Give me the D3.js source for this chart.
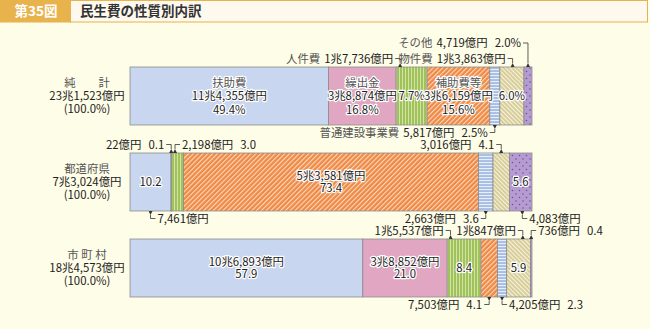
<!DOCTYPE html>
<meta charset="utf-8">
<style>
body { margin: 0; background: #fefde8; }
svg { display: block; font-family: "Noto Sans CJK JP", "Noto Sans", sans-serif; }
.seg { stroke: #8c8c8c; stroke-width: 0.8; }
.lbl { font-size: 11.4px; fill: #222; }
.name { fill: #555; }
.inbar { paint-order: stroke; stroke: #fff; stroke-width: 2.4px; stroke-linejoin: round; }
.conn { fill: none; stroke: #333; stroke-width: 0.8; }
</style>
<svg width="650" height="329"></svg>
<script src="https://d3js.org/d3.v7.min.js"></script>
<script>
// data
var categories = ["扶助費", "繰出金", "人件費", "補助費等", "普通建設事業費", "物件費", "その他"];
var groups = ["純　　計", "都道府県", "市 町 村"];
var totals = ["23兆1,523億円", "7兆3,024億円", "18兆4,573億円"];

var shareNet  = [49.4, 16.8, 7.7, 15.6, 2.5, 6.0, 2.0];
var sharePref = [10.2, 0.1, 3.0, 73.4, 3.6, 4.1, 5.6];
var shareMuni = [57.9, 21.0, 8.4, 4.1, 2.3, 5.9, 0.4];

var amountNet  = ["11兆4,355億円", "3兆8,874億円", "1兆7,736億円", "3兆6,159億円", "5,817億円", "1兆3,863億円", "4,719億円"];
var amountPref = ["7,461億円", "22億円", "2,198億円", "5兆3,581億円", "2,663億円", "3,016億円", "4,083億円"];
var amountMuni = ["10兆6,893億円", "3兆8,852億円", "1兆5,537億円", "7,503億円", "4,205億円", "1兆847億円", "736億円"];

var shares = [shareNet, sharePref, shareMuni];
var amounts = [amountNet, amountPref, amountMuni];

// which labels sit inside a bar (n = name, a = amount, p = percent)
var inside = [
  {r: 0, c: 0, parts: "nap"}, {r: 0, c: 1, parts: "nap"}, {r: 0, c: 2, parts: "p"},
  {r: 0, c: 3, parts: "nap"}, {r: 0, c: 5, parts: "p"},
  {r: 1, c: 0, parts: "p"}, {r: 1, c: 3, parts: "ap"}, {r: 1, c: 6, parts: "p"},
  {r: 2, c: 0, parts: "ap"}, {r: 2, c: 1, parts: "ap"}, {r: 2, c: 2, parts: "p"}, {r: 2, c: 5, parts: "p"}
];
// labels outside with a leader line
var outside = [
  {r: 0, c: 6, side: "top", lv: 2, anchor: "end", parts: "nap"},
  {r: 0, c: 2, side: "top", lv: 1, anchor: "end", parts: "na", at: 0.13},
  {r: 0, c: 5, side: "top", lv: 1, anchor: "end", parts: "na", at: 0.53},
  {r: 0, c: 4, side: "bottom", lv: 1, anchor: "end", parts: "nap"},
  {r: 1, c: 1, side: "top", lv: 1, anchor: "end", parts: "ap"},
  {r: 1, c: 2, side: "top", lv: 1, anchor: "start", parts: "ap", at: 0.3},
  {r: 1, c: 5, side: "top", lv: 1, anchor: "end", parts: "ap"},
  {r: 1, c: 0, side: "bottom", lv: 1, anchor: "start", parts: "a"},
  {r: 1, c: 4, side: "bottom", lv: 1, anchor: "end", parts: "ap"},
  {r: 1, c: 6, side: "bottom", lv: 1, anchor: "start", parts: "a", at: 0.57},
  {r: 2, c: 2, side: "top", lv: 1, anchor: "end", parts: "a", at: 0.1},
  {r: 2, c: 5, side: "top", lv: 1, anchor: "end", parts: "a", at: 0.68},
  {r: 2, c: 6, side: "top", lv: 1, anchor: "start", parts: "ap"},
  {r: 2, c: 3, side: "bottom", lv: 1, anchor: "end", parts: "ap"},
  {r: 2, c: 4, side: "bottom", lv: 1, anchor: "start", parts: "ap"}
];

var svg = d3.select("svg");
var defs = svg.append("defs");

// patterns
function stripes(id, base, line, w, lw, angle) {
  var p = defs.append("pattern").attr("id", id).attr("patternUnits", "userSpaceOnUse")
    .attr("width", w).attr("height", w).attr("patternTransform", "rotate(" + angle + ")");
  p.append("rect").attr("width", w).attr("height", w).attr("fill", base);
  p.append("rect").attr("width", lw).attr("height", w).attr("fill", line);
}
stripes("p-jinken", "#9fc25a", "#d3e3a4", 3, 1, 0);
stripes("p-hojo", "#ef8a46", "#fcd9bd", 3.4, 1.1, 45);
stripes("p-kensetsu", "#a6bee4", "#e9effa", 3, 1.1, 90);
stripes("p-bukken", "#d6cc98", "#f6f2dc", 3, 1.1, -45);
var dots = defs.append("pattern").attr("id", "p-sonota").attr("patternUnits", "userSpaceOnUse")
  .attr("width", 7).attr("height", 7);
dots.append("rect").attr("width", 7).attr("height", 7).attr("fill", "#b69bd2");
dots.append("circle").attr("cx", 1.5).attr("cy", 1.5).attr("r", 0.8).attr("fill", "#6e5290");
dots.append("circle").attr("cx", 5).attr("cy", 5).attr("r", 0.8).attr("fill", "#6e5290");

var fills = ["#c9d6ef", "#e1a6c1", "url(#p-jinken)", "url(#p-hojo)", "url(#p-kensetsu)", "url(#p-bukken)", "url(#p-sonota)"];

defs.append("marker").attr("id", "arr").attr("viewBox", "0 0 6 6").attr("refX", 0).attr("refY", 3)
  .attr("markerWidth", 4).attr("markerHeight", 4).attr("orient", "auto-start-reverse")
  .attr("markerUnits", "userSpaceOnUse")
  .append("path").attr("d", "M6,0L0,3L6,6Z").attr("fill", "#333");

// title
svg.append("rect").attr("x", 70.5).attr("y", 0.5).attr("width", 577).attr("height", 21.5)
  .attr("fill", "#fdf9ef").attr("stroke", "#e8b24c");
svg.append("rect").attr("x", 0).attr("y", 0).attr("width", 71).attr("height", 22.5).attr("fill", "#e8b24c");
svg.append("text").attr("x", 36).attr("y", 11).attr("dy", "0.36em").attr("text-anchor", "middle")
  .attr("fill", "#fff").style("font-size", "13.5px").style("font-weight", "bold").text("第35図");
svg.append("text").attr("x", 80).attr("y", 11).attr("dy", "0.36em")
  .attr("fill", "#333").style("font-size", "13.5px").style("font-weight", "bold").text("民生費の性質別内訳");

// scales
var x = d3.scaleLinear().domain([0, 100]).range([130, 532]);
var y = d3.scaleBand().domain(groups).range([53, 311]).paddingInner(0.3256).paddingOuter(0.1628);

// stacked segments
var rows = shares.map(function(s, r) {
  var acc = 0;
  return s.map(function(v, c) {
    var d = {r: r, c: c, x0: acc, x1: acc + v, v: v};
    acc += v;
    return d;
  });
});

var g = svg.append("g");
rows.forEach(function(row, r) {
  g.selectAll(null).data(row).enter().append("rect")
    .attr("class", "seg")
    .attr("x", function(d) { return x(d.x0); })
    .attr("y", y(groups[r]))
    .attr("width", function(d) { return x(d.x1) - x(d.x0); })
    .attr("height", y.bandwidth())
    .attr("fill", function(d) { return fills[d.c]; });
});

function pct(r, c) { return d3.format(".1f")(shares[r][c]) + (r === 0 ? "%" : ""); }

// row titles
groups.forEach(function(name, r) {
  var cy = y(name) + y.bandwidth() / 2;
  var t = svg.append("text").attr("class", "lbl").attr("text-anchor", "middle");
  t.append("tspan").attr("class", "name").attr("x", 87).attr("y", cy - 13).attr("dy", "0.36em").text(name);
  t.append("tspan").attr("x", 87).attr("y", cy).attr("dy", "0.36em").text(totals[r]);
  t.append("tspan").attr("x", 87).attr("y", cy + 13).attr("dy", "0.36em").text("(100.0%)");
});

// labels inside the bars
inside.forEach(function(l) {
  var d = rows[l.r][l.c];
  var cx = (x(d.x0) + x(d.x1)) / 2;
  var cy = y(groups[l.r]) + y.bandwidth() / 2;
  var lines = l.parts.split("").map(function(p) {
    return p === "n" ? {t: categories[l.c], cls: "name"} : p === "a" ? {t: amounts[l.r][l.c]} : {t: pct(l.r, l.c)};
  });
  var lh = lines.length === 3 ? 13.5 : 12.5;
  var t = svg.append("text").attr("class", "lbl inbar").attr("text-anchor", "middle");
  lines.forEach(function(ln, i) {
    t.append("tspan").attr("class", ln.cls || null).attr("x", cx)
      .attr("y", cy + (i - (lines.length - 1) / 2) * lh).attr("dy", "0.36em").text(ln.t);
  });
});

// labels outside with leader lines
outside.forEach(function(l) {
  var d = rows[l.r][l.c];
  var at = l.at == null ? 0.5 : l.at;
  var cx = x(d.x0) + (x(d.x1) - x(d.x0)) * at;
  var top = y(groups[l.r]), bot = top + y.bandwidth();
  var ty = l.side === "top" ? top - (l.lv === 2 ? 24 : 8.5) : bot + 7.5;
  var tx = l.anchor === "end" ? cx - 7 : cx + 7;
  var t = svg.append("text").attr("class", "lbl").attr("x", tx).attr("y", ty).attr("dy", "0.36em")
    .attr("text-anchor", l.anchor);
  var first = true;
  l.parts.split("").forEach(function(p) {
    var s = t.append("tspan");
    if (p === "n") s.attr("class", "name").text(categories[l.c]);
    else if (p === "a") s.text(amounts[l.r][l.c]);
    else s.text(pct(l.r, l.c));
    if (!first) s.attr("dx", p === "p" ? 7 : 4);
    first = false;
  });
  var edge = l.anchor === "end" ? tx + 2 : tx - 2;
  var barY = l.side === "top" ? top - 0.5 : bot + 0.5;
  svg.append("path").attr("class", "conn")
    .attr("d", "M" + cx + "," + (l.side === "top" ? barY - 3.5 : barY + 3.5) + "V" + ty + "H" + edge)
    .attr("marker-start", "url(#arr)");
});
</script>
